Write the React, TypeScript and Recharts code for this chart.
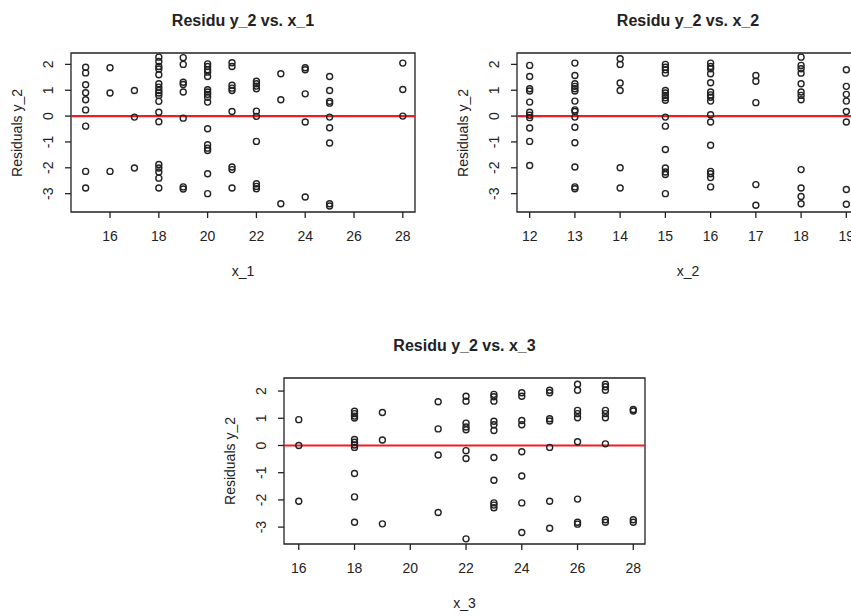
import React from 'react';
import { ScatterChart, Scatter, XAxis, YAxis, ReferenceLine, ReferenceArea } from 'recharts';

// residuals of y_2 grouped by predictor level
const x1Levels = [15, 16, 17, 18, 19, 20, 21, 22, 23, 24, 25, 28];
const x1Residuals = [
  [1.89, 1.67, 1.21, 0.9, 0.63, 0.24, -0.39, -2.14, -2.78],
  [1.87, 0.89, -2.14],
  [0.99, -0.04, -2.01],
  [2.28, 2.11, 1.92, 1.82, 1.6, 1.25, 1.12, 0.99, 0.89, 0.8, 0.57, 0.15, -0.22, -1.87, -2.01, -2.16, -2.4, -2.78],
  [2.26, 2.0, 1.31, 1.22, 0.93, -0.08, -2.74, -2.82],
  [2.02, 1.92, 1.79, 1.7, 1.53, 1.02, 0.93, 0.84, 0.73, 0.54, -0.49, -1.11, -1.24, -1.33, -2.23, -3.0],
  [2.06, 1.92, 1.19, 1.08, 0.99, 0.18, -1.97, -2.07, -2.78],
  [1.35, 1.25, 1.16, 1.06, 0.19, -0.01, -0.98, -2.62, -2.72, -2.81],
  [1.64, 0.63, -3.39],
  [1.87, 1.79, 0.86, -0.23, -3.13],
  [1.53, 0.99, 0.57, 0.5, -0.04, -0.45, -1.04, -3.39, -3.48],
  [2.05, 1.03, 0.0],
];

const x2Levels = [12, 13, 14, 15, 16, 17, 18, 19];
const x2Residuals = [
  [1.96, 1.53, 1.06, 0.97, 0.54, 0.15, 0.03, -0.06, -0.46, -0.98, -1.91],
  [2.05, 1.57, 1.25, 1.15, 1.06, 0.97, 0.58, 0.24, 0.18, -0.04, -0.43, -1.03, -1.97, -2.74, -2.81],
  [2.22, 2.0, 1.28, 0.99, -2.0, -2.78],
  [2.0, 1.89, 1.79, 1.66, 0.99, 0.89, 0.8, 0.71, 0.61, -0.04, -0.39, -1.29, -2.01, -2.16, -2.26, -3.0],
  [2.05, 1.92, 1.83, 1.64, 1.29, 0.93, 0.82, 0.73, 0.58, 0.05, -0.23, -1.13, -2.14, -2.23, -2.38, -2.74],
  [1.57, 1.35, 0.52, -2.65, -3.45],
  [2.28, 1.96, 1.83, 1.66, 1.25, 0.93, 0.8, 0.63, -2.07, -2.78, -3.11, -3.39],
  [1.79, 1.15, 0.84, 0.58, 0.18, -0.23, -2.84, -3.41],
];

const x3Levels = [16, 18, 19, 21, 22, 23, 24, 25, 26, 27, 28];
const x3Residuals = [
  [0.95, 0.0, -2.05],
  [1.26, 1.17, 1.08, 1.01, 0.22, 0.12, 0.02, -0.07, -1.03, -1.89, -2.82],
  [1.21, 0.2, -2.88],
  [1.61, 0.61, -0.35, -2.46],
  [1.81, 1.63, 0.82, 0.68, 0.58, -0.19, -0.48, -3.43],
  [1.88, 1.79, 1.63, 0.89, 0.76, 0.55, -0.44, -1.28, -2.11, -2.19, -2.29],
  [1.94, 1.81, 0.92, 0.76, -0.23, -1.12, -2.11, -3.2],
  [2.03, 1.94, 0.98, 0.9, -0.07, -2.05, -3.04],
  [2.25, 2.03, 1.29, 1.17, 1.02, 0.14, -1.97, -2.82, -2.89],
  [2.25, 2.16, 2.03, 1.29, 1.17, 1.02, 0.06, -2.73, -2.82],
  [1.32, 1.27, -2.73, -2.82],
];

const x1Ticks = [16, 18, 20, 22, 24, 26, 28];
const x2Ticks = [12, 13, 14, 15, 16, 17, 18, 19];
const x3Ticks = [16, 18, 20, 22, 24, 26, 28];
const yTicks = [-3, -2, -1, 0, 1, 2];

const toPoints = (levels: number[], groups: number[][]) =>
  levels.flatMap((x, i) => groups[i].map((r) => ({ x, r })));

const FONT = '"Liberation Sans", Arial, sans-serif';
const INK = '#222';

const OpenCircle = (props: any) => (
  <circle cx={props.cx} cy={props.cy} r={3} fill="none" stroke={INK} strokeWidth={1.4} />
);

const YTick = (props: any) => {
  const { x, y, payload } = props;
  return (
    <text
      x={x}
      y={y}
      transform={`rotate(-90 ${x} ${y})`}
      textAnchor="middle"
      dominantBaseline="central"
      fontSize={14}
      fontFamily={FONT}
      fill={INK}
    >
      {payload.value}
    </text>
  );
};

type PanelProps = {
  left: number;
  top: number;
  width: number;
  height: number;
  margin: { top: number; right: number; bottom: number; left: number };
  xDomain: [number, number];
  yDomain: [number, number];
  xTicks: number[];
  data: { x: number; r: number }[];
  title: string;
  xLabel: string;
};

function Panel(p: PanelProps) {
  const plotLeft = p.left + p.margin.left + 40;
  const plotRight = p.left + p.width - p.margin.right;
  const plotTop = p.top + p.margin.top;
  const plotBottom = p.top + p.height - p.margin.bottom - 30;
  const cx = (plotLeft + plotRight) / 2;
  const cy = (plotTop + plotBottom) / 2;
  return (
    <>
      <div style={{ position: 'absolute', left: p.left, top: p.top }}>
        <ScatterChart width={p.width} height={p.height} margin={p.margin}>
          <XAxis
            type="number"
            dataKey="x"
            domain={p.xDomain}
            ticks={p.xTicks}
            allowDataOverflow
            axisLine={false}
            tickLine={{ stroke: INK, strokeWidth: 1.3 }}
            tickSize={6}
            tickMargin={13}
            height={30}
            tick={{ fontSize: 14, fontFamily: FONT, fill: INK }}
          />
          <YAxis
            type="number"
            dataKey="r"
            domain={p.yDomain}
            ticks={yTicks}
            allowDataOverflow
            axisLine={false}
            tickLine={{ stroke: INK, strokeWidth: 1.3 }}
            tickSize={6}
            tickMargin={17}
            width={40}
            tick={<YTick />}
          />
          <ReferenceArea
            x1={p.xDomain[0]}
            x2={p.xDomain[1]}
            y1={p.yDomain[0]}
            y2={p.yDomain[1]}
            fill="none"
            fillOpacity={0}
            stroke={INK}
            strokeWidth={1.3}
          />
          <ReferenceLine y={0} stroke="#f01c24" strokeWidth={2.2} />
          <Scatter data={p.data} shape={OpenCircle} isAnimationActive={false} />
        </ScatterChart>
      </div>
      <div style={{ position: 'absolute', left: cx - 150, top: plotTop - 42, width: 300, textAlign: 'center', fontFamily: FONT, fontWeight: 'bold', fontSize: 16, color: INK, lineHeight: '20px' }}>
        {p.title}
      </div>
      <div style={{ position: 'absolute', left: cx - 50, top: plotBottom + 50, width: 100, textAlign: 'center', fontFamily: FONT, fontSize: 14, color: INK, lineHeight: '18px' }}>
        {p.xLabel}
      </div>
      <div style={{ position: 'absolute', left: plotLeft - 54 - 60, top: cy - 9, width: 120, textAlign: 'center', fontFamily: FONT, fontSize: 14, color: INK, lineHeight: '18px', transform: 'rotate(-90deg)' }}>
        Residuals y_2
      </div>
    </>
  );
}

export default function App() {
  return (
    <div style={{ position: 'absolute', left: 0, top: 0, width: 851, height: 616, overflow: 'hidden', background: '#fff' }}>
      <Panel
        left={0}
        top={0}
        width={430}
        height={300}
        margin={{ top: 53, right: 15, bottom: 58, left: 31 }}
        xDomain={[14.4, 28.5]}
        yDomain={[-3.71, 2.44]}
        xTicks={x1Ticks}
        data={toPoints(x1Levels, x1Residuals)}
        title="Residu y_2 vs. x_1"
        xLabel="x_1"
      />
      <Panel
        left={440}
        top={0}
        width={430}
        height={300}
        margin={{ top: 53, right: 11, bottom: 58, left: 37 }}
        xDomain={[11.72, 19.28]}
        yDomain={[-3.71, 2.44]}
        xTicks={x2Ticks}
        data={toPoints(x2Levels, x2Residuals)}
        title="Residu y_2 vs. x_2"
        xLabel="x_2"
      />
      <Panel
        left={200}
        top={330}
        width={460}
        height={286}
        margin={{ top: 48, right: 15, bottom: 42, left: 44 }}
        xDomain={[15.47, 28.42]}
        yDomain={[-3.62, 2.48]}
        xTicks={x3Ticks}
        data={toPoints(x3Levels, x3Residuals)}
        title="Residu y_2 vs. x_3"
        xLabel="x_3"
      />
    </div>
  );
}
